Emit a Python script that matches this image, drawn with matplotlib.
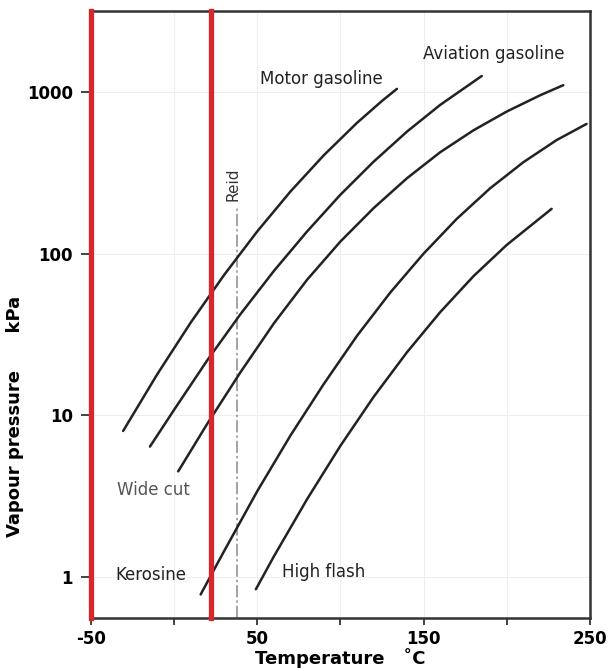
#!/usr/bin/env python3
import numpy
import matplotlib
matplotlib.use("Agg")
import matplotlib.pyplot as plt

# vapour pressure curves (temperature in C, pressure in kPa)
motor_t = [-30.6, -10, 10, 30, 50, 70, 90, 110, 125, 134]
motor_p = [8.0, 18, 37.4, 73.5, 137, 242, 405, 643, 878, 1043]

aviation_t = [-14.5, 0, 20, 40, 60, 80, 100, 120, 140, 160, 185]
aviation_p = [6.4, 10.8, 21.9, 42.3, 78, 137, 231, 370, 567, 830, 1253]

widecut_t = [2.5, 20, 40, 60, 80, 100, 120, 140, 160, 180, 200, 220, 234]
widecut_p = [4.5, 8.87, 18.5, 37, 68.9, 118.6, 191, 292, 423, 578, 755, 951, 1099]

kerosine_t = [16, 30, 50, 70, 90, 110, 130, 150, 170, 190, 210, 230, 248]
kerosine_p = [0.78, 1.44, 3.39, 7.5, 15.6, 31, 57.4, 99.8, 164, 253, 367, 503, 633]

highflash_t = [49.2, 60, 80, 100, 120, 140, 160, 180, 200, 227]
highflash_p = [0.84, 1.34, 3.03, 6.47, 13, 24.5, 43.4, 72.4, 113, 189]

curves = [(motor_t, motor_p), (aviation_t, aviation_p), (widecut_t, widecut_p),
          (kerosine_t, kerosine_p), (highflash_t, highflash_p)]

red_lines = [-50, 22]
reid_t = 37.8
reid_top = 193

x_ticks = [-50, 0, 50, 100, 150, 200, 250]
x_labels = ["-50", "", "50", "", "150", "", "250"]
y_ticks = [1, 10, 100, 1000]
y_labels = ["1", "10", "100", "1000"]

fig = plt.figure(figsize=(6.1, 6.71), dpi=100)
ax = fig.add_axes([0.149, 0.0794, 0.818, 0.9042])
ax.set_yscale("log")
ax.set_xlim(-50, 250)
ax.set_ylim(0.56, 3160)

for t, p in curves:
    ax.plot(t, p, color="#222222", lw=1.8, solid_capstyle="round", zorder=3)

ax.plot([reid_t, reid_t], [0.56, reid_top], color="#8a8a8a", lw=1.1,
        linestyle=(0, (8, 2, 1.5, 2)), zorder=2)
ax.text(reid_t - 2.3, 269, "Reid", rotation=90, ha="center", va="center",
        fontsize=11, color="#333333")

for x in red_lines:
    ax.axvline(x, color="#d9262c", lw=3.8, zorder=6, clip_on=False)

ax.text(51.6, 1200, "Motor gasoline", fontsize=12, color="#222222", va="center")
ax.text(149.6, 1714, "Aviation gasoline", fontsize=12, color="#222222", va="center")
ax.text(-34.4, 3.47, "Wide cut", fontsize=12, color="#555555", va="center")
ax.text(-35, 1.03, "Kerosine", fontsize=12, color="#222222", va="center")
ax.text(64.9, 1.08, "High flash", fontsize=12, color="#222222", va="center")

ax.set_xticks(x_ticks)
ax.set_xticklabels(x_labels, fontsize=12, fontweight="bold")
ax.set_yticks(y_ticks)
ax.set_yticklabels(y_labels, fontsize=12, fontweight="bold")
ax.yaxis.set_minor_locator(matplotlib.ticker.NullLocator())
ax.tick_params(direction="out", length=5, width=1.2, color="#222222")
ax.tick_params(axis="y", length=7, pad=6)
ax.grid(True, color="#eeeeee", lw=0.8, zorder=0)

for s in ax.spines.values():
    s.set_linewidth(1.8)
    s.set_color("#333333")

ax.set_xlabel("Temperature   \u02daC", fontsize=13, fontweight="bold", labelpad=0)
ax.set_ylabel("Vapour pressure      kPa", fontsize=13, fontweight="bold")
ax.yaxis.set_label_coords(-0.134, 0.332)

fig.savefig("out.png", dpi=100)
